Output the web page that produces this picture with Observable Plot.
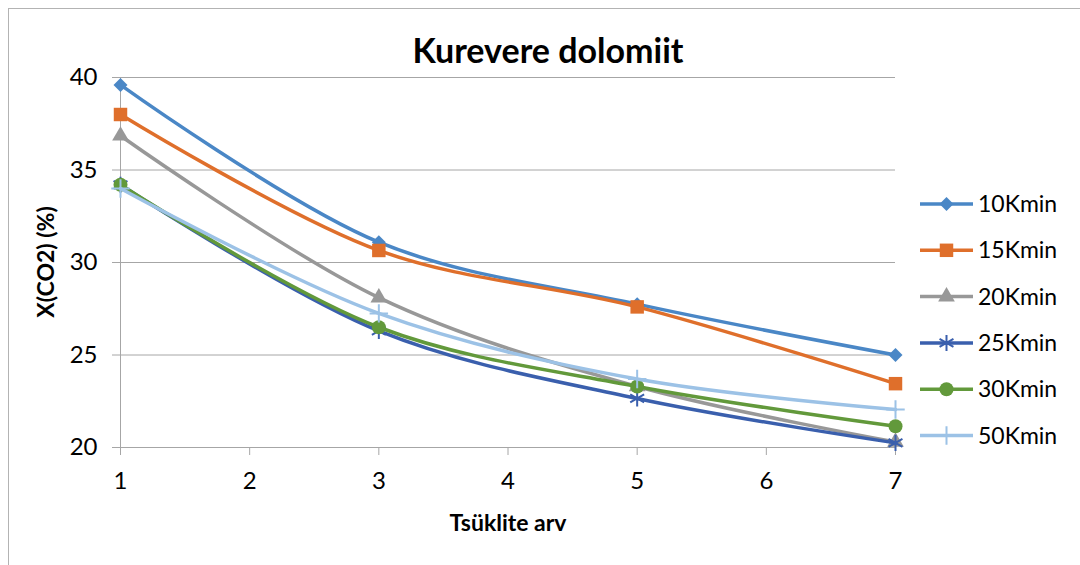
<!DOCTYPE html>
<html><head><meta charset="utf-8">
<script src="https://cdn.jsdelivr.net/npm/d3@7"></script>
<script src="https://cdn.jsdelivr.net/npm/@observablehq/plot@0.6"></script>
<style>
body{margin:0;background:#fff;overflow:hidden;}
#wrap{position:relative;width:1080px;height:565px;overflow:hidden;font-family:Lato,"Open Sans",sans-serif;}
#border{position:absolute;left:8px;top:8px;width:1200px;height:700px;border:1px solid #b3b3b3;}
#title{position:absolute;left:0;width:1096px;top:30px;text-align:center;font-weight:bold;font-size:34px;line-height:40px;color:#000;}
#ylab{position:absolute;left:45px;top:262px;transform:translate(-50%,-50%) rotate(-90deg);font-weight:bold;font-size:23px;white-space:nowrap;}
#xlab{position:absolute;left:508px;top:522px;transform:translate(-50%,-50%);font-weight:bold;font-size:23px;white-space:nowrap;}
#plot{position:absolute;left:0;top:0;}
#legend{position:absolute;left:910px;top:180px;}
</style></head>
<body>
<div id="wrap">
<div id="border"></div>
<div id="plot"></div>
<div id="title">Kurevere dolomiit</div>
<div id="ylab">X(CO2) (%)</div>
<div id="xlab">Tsüklite arv</div>
<div id="legend"></div>
</div>
<script>
const cycles = [1, 3, 5, 7];
const seriesNames = ["10Kmin", "15Kmin", "20Kmin", "25Kmin", "30Kmin", "50Kmin"];
const k10 = [39.6, 31.1, 27.75, 25.0];
const k15 = [38.0, 30.65, 27.6, 23.45];
const k20 = [36.85, 28.1, 23.3, 20.3];
const k25 = [34.2, 26.3, 22.65, 20.25];
const k30 = [34.2, 26.5, 23.3, 21.15];
const k50 = [34.0, 27.25, 23.7, 22.05];
const yTicks = [20, 25, 30, 35, 40];
const xTicks = [1, 2, 3, 4, 5, 6, 7];

const colors = ["#4a87c6", "#df6f2b", "#989898", "#3a5fad", "#62993b", "#9cc2e6"];
const symbols = ["diamond2", "square", "triangle", "asterisk", "circle", "plus"];
const radii = [6.3, 7.6, 6.2, 7.6, 7, 6];
const strokeWs = [1.5, 1.5, 1.5, 2, 1.5, 2];
const fills = [true, true, true, false, true, false];
const allValues = [k10, k15, k20, k25, k30, k50];

const data = [];
seriesNames.forEach((s, i) => cycles.forEach((c, j) => data.push({series: s, idx: i, x: c, y: allValues[i][j]})));

const marks = [
  Plot.gridY(yTicks, {stroke: "#a6a6a6", strokeOpacity: 1, strokeWidth: 1}),
  Plot.ruleX([1], {stroke: "#a6a6a6", strokeWidth: 1}),
  Plot.axisY(yTicks, {tickSize: 8, tickPadding: 15, fontSize: 24, stroke: "#a6a6a6", color: "#000", label: null}),
  Plot.axisX(xTicks, {tickSize: 8, tickPadding: 16, fontSize: 24, stroke: "#a6a6a6", color: "#000", label: null, tickFormat: d => d})
];
seriesNames.forEach((s, i) => {
  const d = data.filter(r => r.idx === i);
  marks.push(Plot.line(d, {x: "x", y: "y", stroke: colors[i], strokeWidth: 3.5, curve: "catmull-rom"}));
  marks.push(Plot.dot(d, {x: "x", y: "y", symbol: () => symbols[i], r: radii[i],
    fill: fills[i] ? colors[i] : "none", stroke: fills[i] ? "none" : colors[i], strokeWidth: strokeWs[i]}));
});

const chart = Plot.plot({
  width: 1080, height: 565,
  marginLeft: 120, marginRight: 185, marginTop: 77, marginBottom: 118,
  x: {domain: [1, 7]},
  y: {domain: [20, 40]},
  style: {fontFamily: "Lato, 'Open Sans', sans-serif", background: "transparent", overflow: "visible"},
  marks
});
document.getElementById("plot").append(chart);

// legend
const lg = d3.select("#legend").append("svg").attr("width", 170).attr("height", 290);
const symMap = {diamond2: d3.symbolDiamond2, square: d3.symbolSquare, triangle: d3.symbolTriangle,
  asterisk: d3.symbolAsterisk, circle: d3.symbolCircle, plus: d3.symbolPlus};
seriesNames.forEach((s, i) => {
  const cy = 24 + i * 46.3;
  lg.append("line").attr("x1", 10).attr("x2", 63).attr("y1", cy).attr("y2", cy)
    .attr("stroke", colors[i]).attr("stroke-width", 3.5);
  lg.append("path").attr("d", d3.symbol(symMap[symbols[i]], radii[i] * radii[i] * Math.PI)())
    .attr("transform", `translate(36.5,${cy})`)
    .attr("fill", fills[i] ? colors[i] : "none").attr("stroke", fills[i] ? "none" : colors[i]).attr("stroke-width", strokeWs[i]);
  lg.append("text").attr("x", 68).attr("y", cy).attr("dy", "0.35em").attr("font-size", 23)
    .attr("font-family", "Lato, 'Open Sans', sans-serif").attr("fill", "#000").text(s);
});
</script>
</body></html>
